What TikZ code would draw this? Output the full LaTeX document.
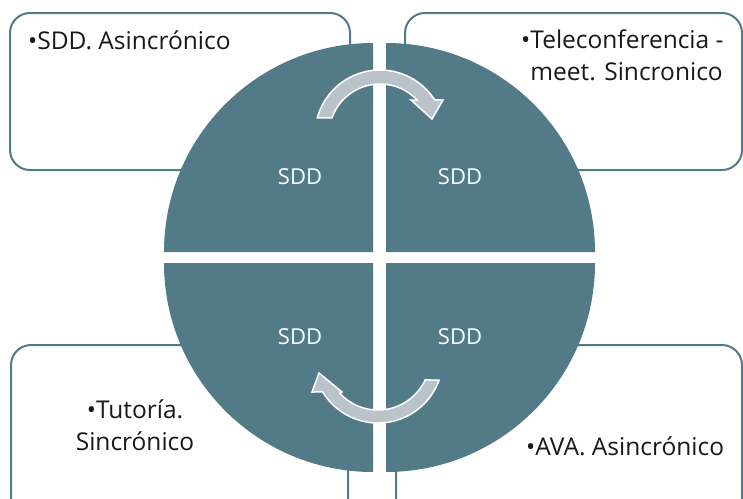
\documentclass[tikz,border=0pt]{standalone}
\usepackage{fontspec}
\setmainfont{Open Sans}
\definecolor{qteal}{HTML}{527A87}
\definecolor{arrowgray}{HTML}{B9C3C9}
\begin{document}
\begin{tikzpicture}[x=1pt,y=-1pt,
  box/.style={draw=qteal, line width=2pt, rounded corners=20pt, fill=white},
  quad/.style={fill=qteal},
  arr/.style={fill=arrowgray, draw=white, line width=1.5pt, line join=miter},
  lbl/.style={font=\fontsize{24.5}{32}\selectfont, text=black!90, inner sep=0pt, align=left},
  sdd/.style={font=\fontsize{22}{26}\selectfont, text=white, inner sep=0pt}]
\useasboundingbox (0,0) rectangle (743,498);
\clip (0,0) rectangle (743,498);
% boxes
\draw[box] (10,13) rectangle (350,170);
\draw[box] (405,13) rectangle (742,170);
\draw[box] (11,345) rectangle (348,530);
\draw[box] (396,345) rectangle (742,530);
% quadrants
\fill[quad] (373,252) -- (164,252) arc[start angle=180, end angle=270, radius=209] -- cycle;
\fill[quad] (386,252) -- (386,43) arc[start angle=270, end angle=360, radius=209] -- cycle;
\fill[quad] (386,263) -- (595,263) arc[start angle=0, end angle=90, radius=209] -- cycle;
\fill[quad] (373,263) -- (373,472) arc[start angle=90, end angle=180, radius=209] -- cycle;
% arrows
\path[arr] ([shift={(195.2:65)}]380,135) arc[start angle=195.2, end angle=327.4, radius=65]
  -- (443,100) -- (432,119) -- (411,100) -- ([shift={(316.7:51)}]380,135)
  arc[start angle=316.7, end angle=199.5, radius=51] -- cycle;
\path[arr] ([shift={(19.8:65)}]378,358) arc[start angle=19.8, end angle=148.5, radius=65]
  -- (312,392) -- (319,373) -- (342,392) -- ([shift={(137.3:52)}]378,358)
  arc[start angle=137.3, end angle=25, radius=52] -- cycle;
% quadrant labels
\node[sdd, anchor=base] (q1) at (300,184) {SDD};
\node[sdd, anchor=base] (q2) at (460,184) {SDD};
\node[sdd, anchor=base] (q3) at (300,344) {SDD};
\node[sdd, anchor=base] (q4) at (460,344) {SDD};
% box texts
\node[lbl, anchor=base west] (t1) at (28,49) {•SDD. Asincrónico};
\node[lbl, anchor=base west] (t2) at (521,80) {•Teleconferencia -\\\phantom{•}meet. Sincronico};
\node[lbl, anchor=base, align=center] (t3) at (135,450) {•Tutoría.\\Sincrónico};
\node[lbl, anchor=base west] (t4) at (526,455) {•AVA. Asincrónico};
\end{tikzpicture}
\end{document}
